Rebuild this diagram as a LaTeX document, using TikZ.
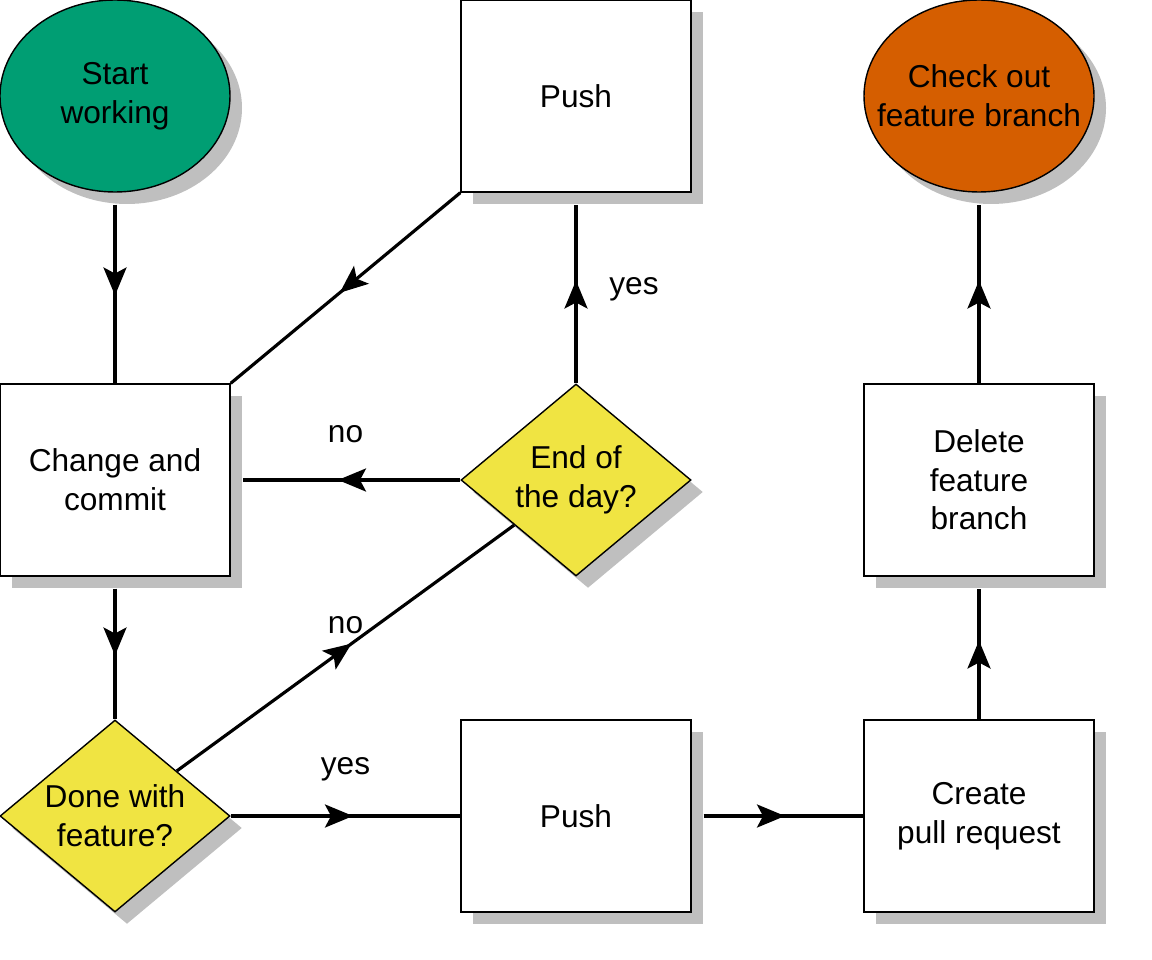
\documentclass[tikz,border=0pt]{standalone}
\usepackage{fontspec}
\setmainfont{Liberation Sans}
\usetikzlibrary{positioning,shapes.geometric,shadows,arrows.meta,decorations.markings}

\definecolor{startgreen}{RGB}{0,158,115}
\definecolor{endorange}{RGB}{213,94,0}
\definecolor{askyellow}{RGB}{240,228,66}

\begin{document}
\begin{tikzpicture}[node distance=2cm, on grid, font=\fontsize{18}{22}\selectfont,
    box/.style={draw, line width=0.8pt, fill=white, minimum width=4.6cm, minimum height=3.84cm,
      align=center, drop shadow={shadow xshift=0.24cm, shadow yshift=-0.24cm, fill=black!25, opacity=1}},
    terminal/.style={box, ellipse, inner sep=-0.5cm},
    decision/.style={box, diamond, aspect=1.2, inner sep=0pt, fill=askyellow},
    flow/.style={line width=1.8pt, postaction={decorate}, decoration={markings,
        mark=at position 0.5 with {\arrow[xshift=1.5mm]{Stealth[length=5.6mm, width=4.6mm, inset=1.2mm]}}}}]

    \useasboundingbox (0,0) rectangle (23.04,-19.2);

    \node[terminal, fill=startgreen] (start) at (2.3,-1.92) {Start\\working};
    \node[box] (push_top) [right=9.22cm of start] {Push};
    \node[terminal, fill=endorange] (checkout) [right=8.06cm of push_top] {Check out\\feature branch};
    \node[box] (change) [below=7.68cm of start] {Change and\\commit};
    \node[decision] (end_day) [below=7.68cm of push_top] {End of\\the day?};
    \node[box] (delete) [below=7.68cm of checkout] {Delete\\feature\\branch};
    \node[decision] (done) [below=6.72cm of change] {Done with\\feature?};
    \node[box] (push_bot) [below=6.72cm of end_day] {Push};
    \node[box] (request) [below=6.72cm of delete] {Create\\pull request};

    \path
    (start.south) edge[flow, shorten <=0.24cm] (change.north)
    (push_top.south west) edge[flow] (change.north east)
    (end_day.north) edge[flow, shorten >=0.24cm] node[xshift=1.16cm, yshift=-0.02cm] {yes} (push_top.south)
    (end_day.west) edge[flow, shorten >=0.24cm] node[yshift=0.92cm] {no} (change.east)
    (change.south) edge[flow, shorten <=0.24cm] (done.north)
    (done) edge[flow] node[yshift=0.46cm] {no} (end_day)
    (done.east) edge[flow] node[yshift=0.94cm] {yes} (push_bot.west)
    (push_bot.east) edge[flow, shorten <=0.24cm] (request.west)
    (request.north) edge[flow, shorten >=0.24cm] (delete.south)
    (delete.north) edge[flow, shorten >=0.24cm] (checkout.south);

  \end{tikzpicture}
\end{document}
